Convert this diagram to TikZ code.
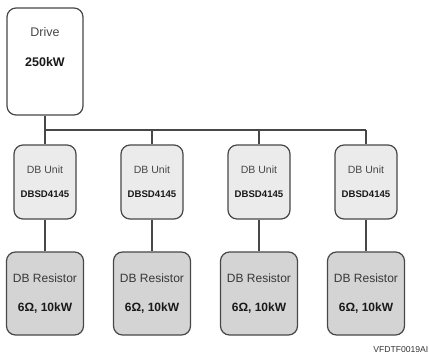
\documentclass[tikz,border=0pt]{standalone}
\usepackage{fontspec}
\setmainfont{Liberation Sans}
\begin{document}
\begin{tikzpicture}[x=1pt,y=-1pt,
  boxline/.style={draw=black!72, line width=1.2pt, rounded corners=9pt},
  drivebox/.style={boxline, fill=white, minimum width=76pt, minimum height=107pt, inner sep=0pt},
  unitbox/.style={boxline, fill=black!8, minimum width=62pt, minimum height=74pt, inner sep=0pt, align=center, text=black!72, font=\fontsize{10.5}{24}\selectfont},
  resbox/.style={boxline, fill=black!17, minimum width=77pt, minimum height=83pt, inner sep=0pt, align=center, text=black!78, font=\fontsize{12}{29}\selectfont},
  wire/.style={draw=black!72, line width=1.2pt},
]
\useasboundingbox (0,0) rectangle (429,354);
% Drive
\node[drivebox] (drive) at (45,61.5) {};
\node[text=black!72, font=\fontsize{12.5}{14}\selectfont] (drivet) at (45,32) {Drive};
\node[text=black!90, font=\fontsize{12.5}{14}\selectfont\bfseries] (drivep) at (45,62) {250kW};
% DB units and resistors
\foreach \i/\x in {1/45,2/152,3/259,4/366}{
  \node[unitbox] (u\i) at (\x,182) {DB Unit\\{\fontsize{9.6}{24}\selectfont\bfseries\color{black!90}DBSD4145}};
  \node[resbox] (r\i) at (\x,293.5) {DB Resistor\\{\bfseries\color{black!90}6Ω, 10kW}};
}
% wiring
\coordinate (busL) at (45,130);
\coordinate (busR) at (366,130);
\draw[wire] (drive.south) -- (u1.north);
\draw[wire] (busL) -- (busR);
\foreach \i in {2,3,4}{
  \draw[wire] (u\i.north |- busL) -- (u\i.north);
}
\foreach \i in {1,2,3,4}{
  \draw[wire] (u\i.south) -- (r\i.north);
}
\node[anchor=east, text=black!80, font=\fontsize{8.6}{9}\selectfont, inner sep=0pt] (tag) at (428.5,350) {VFDTF0019AI};
\end{tikzpicture}
\end{document}
